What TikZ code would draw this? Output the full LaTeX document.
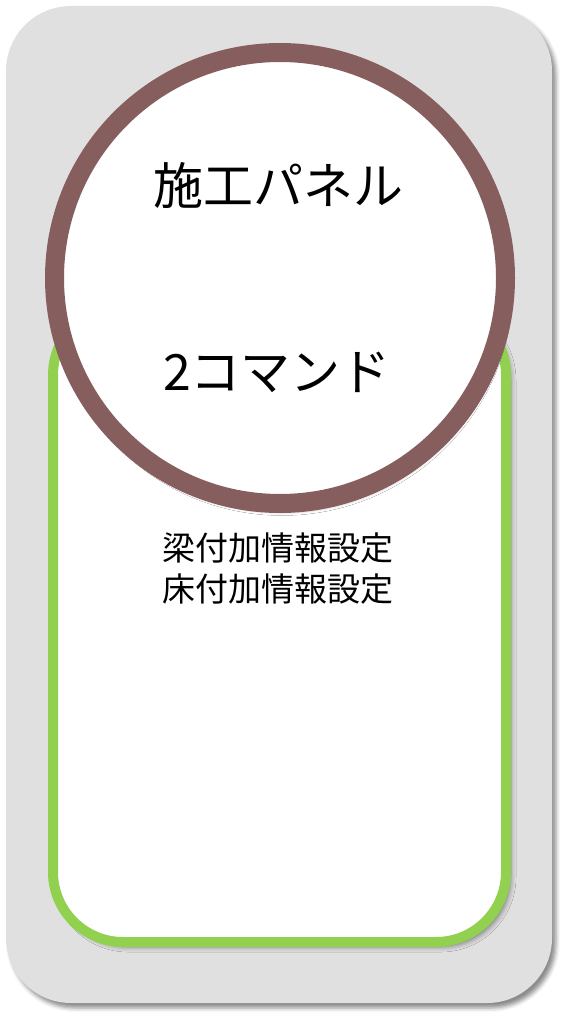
\documentclass[tikz,border=0pt]{standalone}
\usepackage{fontspec}
\setmainfont{Noto Sans CJK JP}
\usetikzlibrary{shadows.blur}
\definecolor{bggray}{RGB}{224,224,224}
\definecolor{ringbrown}{RGB}{135,94,94}
\definecolor{panelgreen}{RGB}{146,208,80}
\tikzset{
  outerbox/.style={fill=bggray, rounded corners=65pt,
    blur shadow={shadow xshift=4pt, shadow yshift=-5pt, shadow blur radius=4pt, shadow opacity=45}},
  panelbox/.style={draw=panelgreen, line width=10pt, fill=white, rounded corners=70pt,
    blur shadow={shadow xshift=5pt, shadow yshift=-5pt, shadow blur radius=5pt, shadow opacity=45}},
  ring/.style={draw=ringbrown, line width=19pt, fill=white,
    blur shadow={shadow xshift=2pt, shadow yshift=-6pt, shadow blur radius=6pt, shadow opacity=40}},
  bigtext/.style={font=\fontsize{50pt}{60pt}\selectfont, text=black, inner sep=0pt},
  smalltext/.style={font=\fontsize{33pt}{41pt}\selectfont, text=black, inner sep=0pt, align=center},
}
\begin{document}
\begin{tikzpicture}[x=1pt, y=-1pt]
\useasboundingbox (0,0) rectangle (571,1024);
\path[outerbox] (6,6) rectangle (552,1003);
\path[panelbox] (53,305) rectangle (506,942);
\path[ring] (280,278) circle[radius=225.5pt];
\node[bigtext] (title) at (278,186) {施工パネル};
\node[bigtext] (count) at (277,372) {2コマンド};
\node[smalltext] (cmds) at (277.5,569) {梁付加情報設定\\床付加情報設定};
\end{tikzpicture}
\end{document}
